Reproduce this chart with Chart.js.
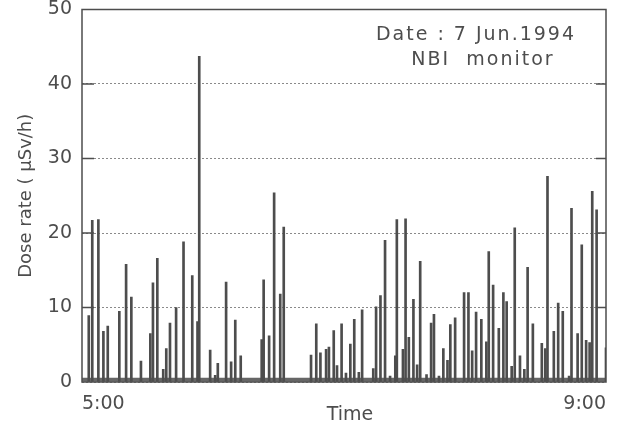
<!DOCTYPE html>
<html>
<head>
<meta charset="utf-8">
<script src="https://cdn.jsdelivr.net/npm/chart.js@4/dist/chart.umd.min.js"></script>
<style>
html, body { margin: 0; padding: 0; background: #fff; }
</style>
</head>
<body>
<canvas id="chartDose" width="633" height="428"></canvas>
<script>
// time of each pulse, minutes after 5:00
const spikeTimes = [
    3.1, 4.7, 7.5, 9.8, 11.8, 17.1, 20.2, 22.6, 27.0, 31.3, 32.5, 34.5, 37.2, 38.6, 40.3,
    43.1, 46.5, 50.5, 52.9, 53.7, 58.7, 61.0, 62.2, 66.0, 68.3, 70.2, 72.7,
    82.3, 83.2, 85.7, 88.0, 90.8, 92.4,
    104.9, 107.3, 109.2, 111.8, 113.1, 115.3, 116.8, 118.9, 120.9, 122.9, 124.7, 126.8, 128.3,
    133.4, 134.7, 136.7, 138.8, 141.1, 143.5, 144.2, 147.0, 148.2, 149.7, 151.8, 153.5, 154.9,
    157.8, 159.9, 161.2, 163.5, 165.5, 167.4, 168.7, 170.9, 175.0, 177.0, 178.7, 180.5, 182.9,
    185.2, 186.3, 188.3, 190.9, 193.0, 194.5, 196.8, 198.2, 200.6, 202.6, 204.1, 206.5,
    210.6, 212.2, 213.2, 216.1, 218.1, 220.2, 223.1, 224.2, 227.0, 228.9, 230.9, 232.5,
    233.7, 235.7, 240.0
];
// dose rate of each pulse, uSv/h
const spikeValues = [
    8.9, 21.7, 21.8, 6.8, 7.5, 9.5, 15.8, 11.4, 2.8, 6.5, 13.3, 16.6, 1.7, 4.5, 7.9,
    10.0, 18.8, 14.3, 8.1, 43.7, 4.3, 0.9, 2.5, 13.4, 2.7, 8.3, 3.5,
    5.7, 13.7, 6.2, 25.4, 11.8, 20.8,
    3.6, 7.8, 3.9, 4.4, 4.7, 6.9, 2.2, 7.8, 1.2, 5.1, 8.4, 1.3, 9.7,
    1.8, 10.1, 11.6, 19.0, 0.8, 3.5, 21.8, 4.4, 21.9, 6.0, 11.1, 2.3, 16.2,
    1.0, 7.9, 9.1, 0.8, 4.5, 2.9, 7.7, 8.6, 12.0, 12.0, 4.2, 9.4, 8.4,
    5.4, 17.5, 13.0, 7.2, 12.0, 10.8, 2.1, 20.7, 3.5, 1.7, 15.4, 7.8,
    5.2, 4.5, 27.6, 6.8, 10.6, 9.5, 0.8, 23.3, 6.5, 18.4, 5.6, 5.3,
    25.6, 23.1, 4.6
];
// background level between pulses
const baseTimes = [0, 240];
const baseValues = [0.3, 0.3];

const xTickLabels = { 0: '5:00', 240: '9:00' };
const yTicks = [0, 10, 20, 30, 40, 50];
const noteLines = ['Date : 7 Jun.1994', 'NBI  monitor'];

const INK = '#4d4d4d';
const FONT = '"DejaVu Sans", sans-serif';

const framePlugin = {
    id: 'frame',
    afterDatasetsDraw(chart) {
        const { ctx, chartArea: a, scales } = chart;
        ctx.save();
        ctx.setLineDash([]);
        ctx.strokeStyle = INK;
        ctx.lineWidth = 1.5;
        ctx.strokeRect(a.left, a.top, a.right - a.left, a.bottom - a.top);
        // short inward ticks on both sides
        yTicks.slice(1, -1).forEach(v => {
            const y = scales.y.getPixelForValue(v);
            ctx.beginPath();
            ctx.moveTo(a.left, y); ctx.lineTo(a.left + 12, y);
            ctx.moveTo(a.right - 10, y); ctx.lineTo(a.right, y);
            ctx.stroke();
        });
        ctx.fillStyle = INK;
        ctx.font = '19px ' + FONT;
        ctx.textAlign = 'center';
        ctx.textBaseline = 'middle';
        ctx.letterSpacing = '2px';
        ctx.fillText(noteLines[0], a.left + 394, a.top + 26);
        ctx.fillText(noteLines[1], a.left + 401, a.top + 51);
        ctx.restore();
    }
};

new Chart(document.getElementById('chartDose'), {
    type: 'bar',
    data: {
        datasets: [{
            type: 'line',
            data: baseTimes.map((t, i) => ({ x: t, y: baseValues[i] })),
            borderColor: '#666',
            borderWidth: 4,
            pointRadius: 0,
            order: 2,
        }, {
            data: spikeTimes.map((t, i) => ({ x: t, y: spikeValues[i] })),
            backgroundColor: INK,
            barThickness: 2,
            order: 1,
        }]
    },
    options: {
        responsive: false,
        animation: false,
        layout: { padding: { left: 0, right: 27, top: 0, bottom: 0 } },
        plugins: { legend: { display: false }, tooltip: { enabled: false } },
        scales: {
            x: {
                type: 'linear',
                min: 0, max: 240,
                offset: false,
                grid: { display: false, drawTicks: false },
                border: { display: false },
                afterBuildTicks: s => { s.ticks = [{ value: 0 }, { value: 240 }]; },
                afterFit: s => { s.height = 46; },
                ticks: {
                    align: 'inner',
                    padding: 11,
                    color: INK,
                    font: { family: FONT, size: 19 },
                    callback: v => xTickLabels[v],
                },
                title: {
                    display: true,
                    text: '  Time',
                    color: INK,
                    font: { family: FONT, size: 19 },
                    padding: { top: 0, bottom: 2 },
                }
            },
            y: {
                min: 0, max: 50,
                afterBuildTicks: s => { s.ticks = yTicks.map(v => ({ value: v })); },
                afterFit: s => { s.width = 82; },
                grid: { color: '#8a8a8a', lineWidth: 1, drawTicks: true, tickLength: 10, tickColor: 'rgba(0,0,0,0)' },
                border: { display: false, dash: [2, 2] },
                ticks: {
                    padding: 0,
                    color: INK,
                    font: { family: FONT, size: 19, lineHeight: 1 },
                },
                title: {
                    display: true,
                    text: 'Dose rate ( \u03bcSv/h)',
                    color: INK,
                    font: { family: FONT, size: 18 },
                    padding: { top: 16, bottom: 0 },
                }
            }
        }
    },
    plugins: [framePlugin]
});
</script>
</body>
</html>
